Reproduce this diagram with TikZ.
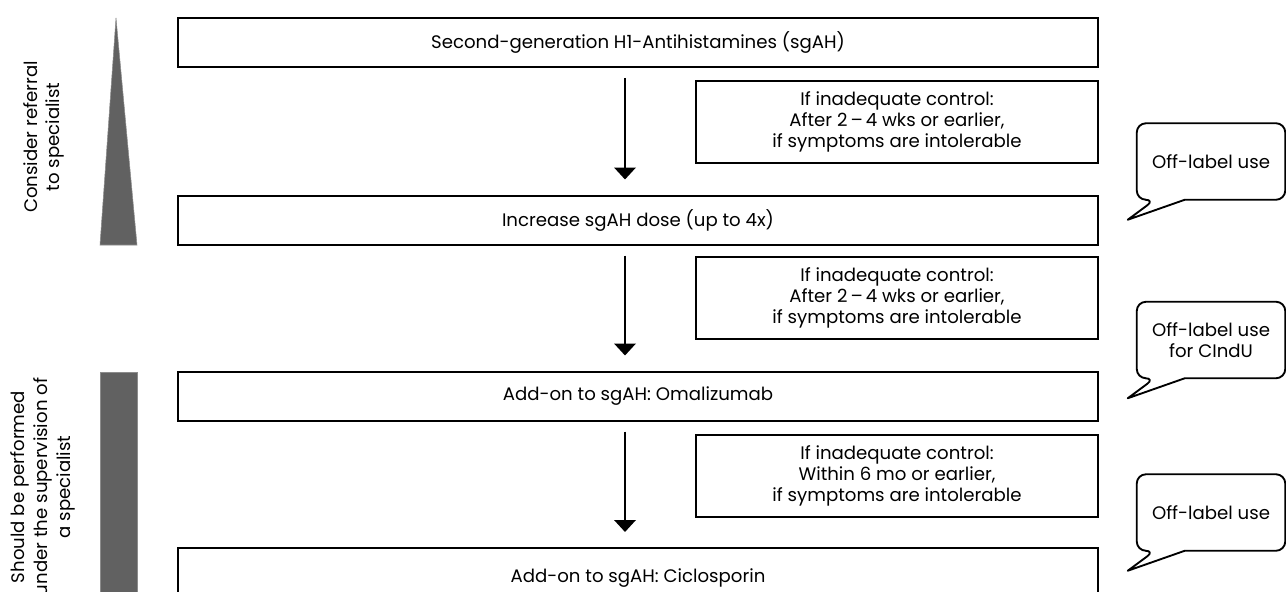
\documentclass[tikz,border=0pt]{standalone}
\usepackage{fontspec}
\setmainfont{Poppins}
\usetikzlibrary{positioning,arrows.meta,calc}

\begin{document}
\begin{tikzpicture}[
    x=0.75pt, y=-0.75pt,
    font=\fontsize{13.6}{15.9}\selectfont,
    stepbox/.style={
        rectangle, draw, line width=1.5pt, inner sep=0pt,
        minimum width=690pt, minimum height=36.75pt
    },
    condbox/.style={
        rectangle, draw, line width=1.5pt, inner sep=0pt,
        minimum width=301.5pt, minimum height=61.5pt, align=center
    },
    bubble/.style={
        rectangle, inner sep=0pt, align=center,
        minimum width=111pt, minimum height=57pt
    },
    balloon/.style={draw, line width=1.4pt, line join=round},
    bar/.style={fill=black!62, draw=black!45, line width=0.4pt},
    arrow/.style={-{Triangle[width=16pt,length=9pt]}, line width=2pt,
        shorten <=7.5pt, shorten >=11.25pt}
]
\useasboundingbox (0,0) rectangle (1286,592);

% treatment steps
\node[stepbox] (sgah) at (638,42.5) {Second-generation H1-Antihistamines (sgAH)};
\node[stepbox] (dose) at (638,220) {Increase sgAH dose (up to 4x)};
\node[stepbox] (omal) at (638,396) {Add-on to sgAH: Omalizumab};
\node[stepbox, minimum height=45pt] (cicl) at (638,578) {Add-on to sgAH: Ciclosporin};

% conditions
\node[condbox] (cond1) at (897,122) {If inadequate control:\\After 2\,–\,4 wks or earlier,\\if symptoms are intolerable};
\node[condbox] (cond2) at (897,298) {If inadequate control:\\After 2\,–\,4 wks or earlier,\\if symptoms are intolerable};
\node[condbox] (cond3) at (897,476) {If inadequate control:\\Within 6 mo or earlier,\\if symptoms are intolerable};

\draw[arrow] ([xshift=-9.75pt]sgah.south) -- ([xshift=-9.75pt]dose.north);
\draw[arrow] ([xshift=-9.75pt]dose.south) -- ([xshift=-9.75pt]omal.north);
\draw[arrow] ([xshift=-9.75pt]omal.south) -- ([xshift=-9.75pt]cicl.north);

% speech bubbles
\foreach \i/\yc/\txt in {1/161.5/{Off-label use}, 2/340/{Off-label use\\for CIndU}, 3/512.5/{Off-label use}} {
    \node[bubble] (off\i) at (1211,\yc) {\txt};
    \draw[balloon] ($(off\i.south west)+(-6.75pt,-15pt)$)
        -- ($(off\i.south west)+(36pt,0)$) [rounded corners=7pt]
        -- (off\i.south east) -- (off\i.north east)
        -- (off\i.north west) -- (off\i.south west)
        -- ($(off\i.south west)+(13.5pt,0)$) [sharp corners] -- cycle;
}

% left side
\fill[bar] (100,245) -- (116,18) -- (137,245) -- cycle;
\fill[bar] (100,372) rectangle (137,600);
\node[rotate=90, align=center, font=\fontsize{13.6}{16.5}\selectfont] (refer) at (44,137) {Consider referral\\to specialist};
\node[rotate=90, align=center, font=\fontsize{13.6}{17}\selectfont] (superv) at (43,487) {Should be performed\\under the supervision of\\a specialist};
\end{tikzpicture}
\end{document}
